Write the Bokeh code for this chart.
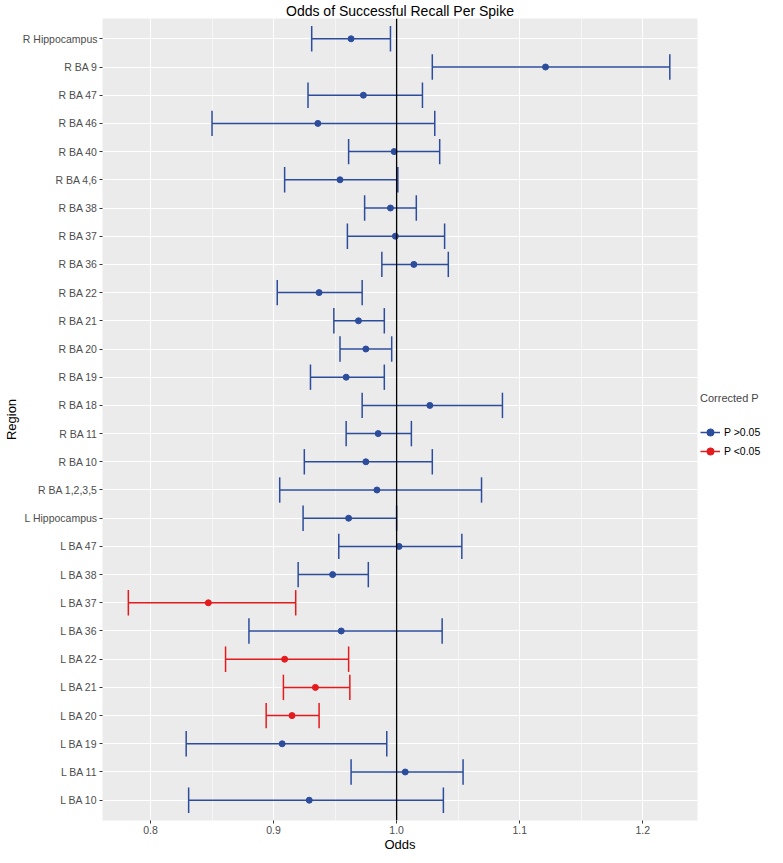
from bokeh.plotting import figure
from bokeh.models import (ColumnDataSource, FactorRange, Range1d, FixedTicker, Span,
                          Legend, LegendItem, NumeralTickFormatter)
from bokeh.transform import dodge
from bokeh.embed import file_html
from bokeh.resources import INLINE

# ---------------- data (top to bottom) ----------------
regions = ["R Hippocampus", "R BA 9", "R BA 47", "R BA 46", "R BA 40", "R BA 4,6",
           "R BA 38", "R BA 37", "R BA 36", "R BA 22", "R BA 21", "R BA 20",
           "R BA 19", "R BA 18", "R BA 11", "R BA 10", "R BA 1,2,3,5",
           "L Hippocampus", "L BA 47", "L BA 38", "L BA 37", "L BA 36",
           "L BA 22", "L BA 21", "L BA 20", "L BA 19", "L BA 11", "L BA 10"]
odds = [0.963, 1.121, 0.973, 0.936, 0.998, 0.954,
        0.995, 0.999, 1.014, 0.937, 0.969, 0.975,
        0.959, 1.027, 0.985, 0.975, 0.984,
        0.961, 1.002, 0.948, 0.847, 0.955,
        0.909, 0.934, 0.915, 0.907, 1.007, 0.929]
lower = [0.931, 1.029, 0.928, 0.850, 0.961, 0.909,
         0.974, 0.960, 0.988, 0.903, 0.949, 0.954,
         0.930, 0.972, 0.959, 0.925, 0.905,
         0.924, 0.953, 0.920, 0.782, 0.880,
         0.861, 0.908, 0.894, 0.829, 0.963, 0.831]
upper = [0.995, 1.222, 1.021, 1.031, 1.035, 1.001,
         1.016, 1.039, 1.042, 0.972, 0.990, 0.996,
         0.990, 1.086, 1.012, 1.029, 1.069,
         1.000, 1.053, 0.977, 0.918, 1.037,
         0.961, 0.962, 0.937, 0.992, 1.054, 1.038]
significant = [False] * 20 + [True, False, True, True, True, False, False, False]

x_ticks = [0.8, 0.9, 1.0, 1.1, 1.2]
x_tick_labels = ["0.8", "0.9", "1.0", "1.1", "1.2"]
x_minor_ticks = [0.75, 0.85, 0.95, 1.05, 1.15, 1.25]
group_labels = ["P >0.05", "P <0.05"]
group_colors = ["#2C4C9C", "#E41A1C"]

FONT = "Liberation Sans"
FW = 595

p = figure(frame_width=FW, frame_height=802,
           x_range=Range1d(0.761, 1.2445),
           y_range=FactorRange(factors=regions[::-1], range_padding=0.22,
                               range_padding_units="absolute"),
           title="Odds of Successful Recall Per Spike",
           output_backend="svg", toolbar_location=None,
           min_border_left=0, min_border_right=0, min_border_top=0, min_border_bottom=0)

p.background_fill_color = "#EBEBEB"
p.border_fill_color = "white"
p.outline_line_color = None

p.title.align = "center"
p.title.text_font = FONT
p.title.text_font_size = "14px"
p.title.text_font_style = "normal"
p.title.text_color = "black"
p.title.standoff = 0

# grids
p.xgrid.grid_line_color = "white"
p.xgrid.grid_line_width = 1.1
p.xgrid.minor_grid_line_color = "white"
p.xgrid.minor_grid_line_width = 0.55
p.ygrid.grid_line_color = "white"
p.ygrid.grid_line_width = 1.1

# axes
p.xaxis.ticker = FixedTicker(ticks=x_ticks, minor_ticks=x_minor_ticks)
p.xaxis.formatter = NumeralTickFormatter(format="0.0")
p.xaxis.major_label_overrides = dict(zip(x_ticks, x_tick_labels))
for ax in (p.xaxis, p.yaxis):
    ax.axis_line_color = None
    ax.major_tick_in = 0
    ax.major_tick_out = 3
    ax.major_tick_line_color = "#333333"
    ax.major_tick_line_width = 1
    ax.minor_tick_line_color = None
    ax.major_label_text_font = FONT
    ax.major_label_text_font_size = "10.5px"
    ax.major_label_text_color = "#4D4D4D"
    ax.major_label_standoff = 2
    ax.axis_label_text_font = FONT
    ax.axis_label_text_font_size = "13px"
    ax.axis_label_text_font_style = "normal"
    ax.axis_label_text_color = "black"
    ax.axis_label_standoff = 1
p.xaxis.major_label_standoff = 1
p.xaxis.axis_label_standoff = 0
p.xaxis.axis_label = "Odds"
p.yaxis.axis_label = "Region"

legend_items = []
for gi, (lab, col) in enumerate(zip(group_labels, group_colors)):
    idx = [i for i, s in enumerate(significant) if s == (gi == 1)]
    src = ColumnDataSource(dict(
        region=[regions[i] for i in idx],
        odds=[odds[i] for i in idx],
        lo=[lower[i] for i in idx],
        hi=[upper[i] for i in idx],
    ))
    seg = p.segment(x0="lo", y0="region", x1="hi", y1="region", source=src,
                    line_color=col, line_width=1.5)
    for end in ("lo", "hi"):
        p.segment(x0=end, x1=end,
                  y0=dodge("region", -0.45, range=p.y_range),
                  y1=dodge("region", 0.45, range=p.y_range),
                  source=src, line_color=col, line_width=1.5)
    pts = p.scatter(x="odds", y="region", source=src, size=6,
                    fill_color=col, line_color=col)
    legend_items.append(LegendItem(label=lab, renderers=[seg, pts]))

p.add_layout(Span(location=1.0, dimension="height", line_color="black", line_width=1.3))

legend = Legend(items=legend_items, title="Corrected P", location=(0, 357),
                border_line_alpha=0, background_fill_alpha=0,
                title_text_font=FONT, title_text_font_size="11px",
                title_text_font_style="normal", title_standoff=19,
                label_text_font=FONT, label_text_font_size="10.5px",
                label_text_color="black", label_standoff=4,
                glyph_width=20, glyph_height=18, spacing=1,
                padding=3, margin=0)
p.add_layout(legend, "right")

open("out.html", "w").write(file_html(p, INLINE))
